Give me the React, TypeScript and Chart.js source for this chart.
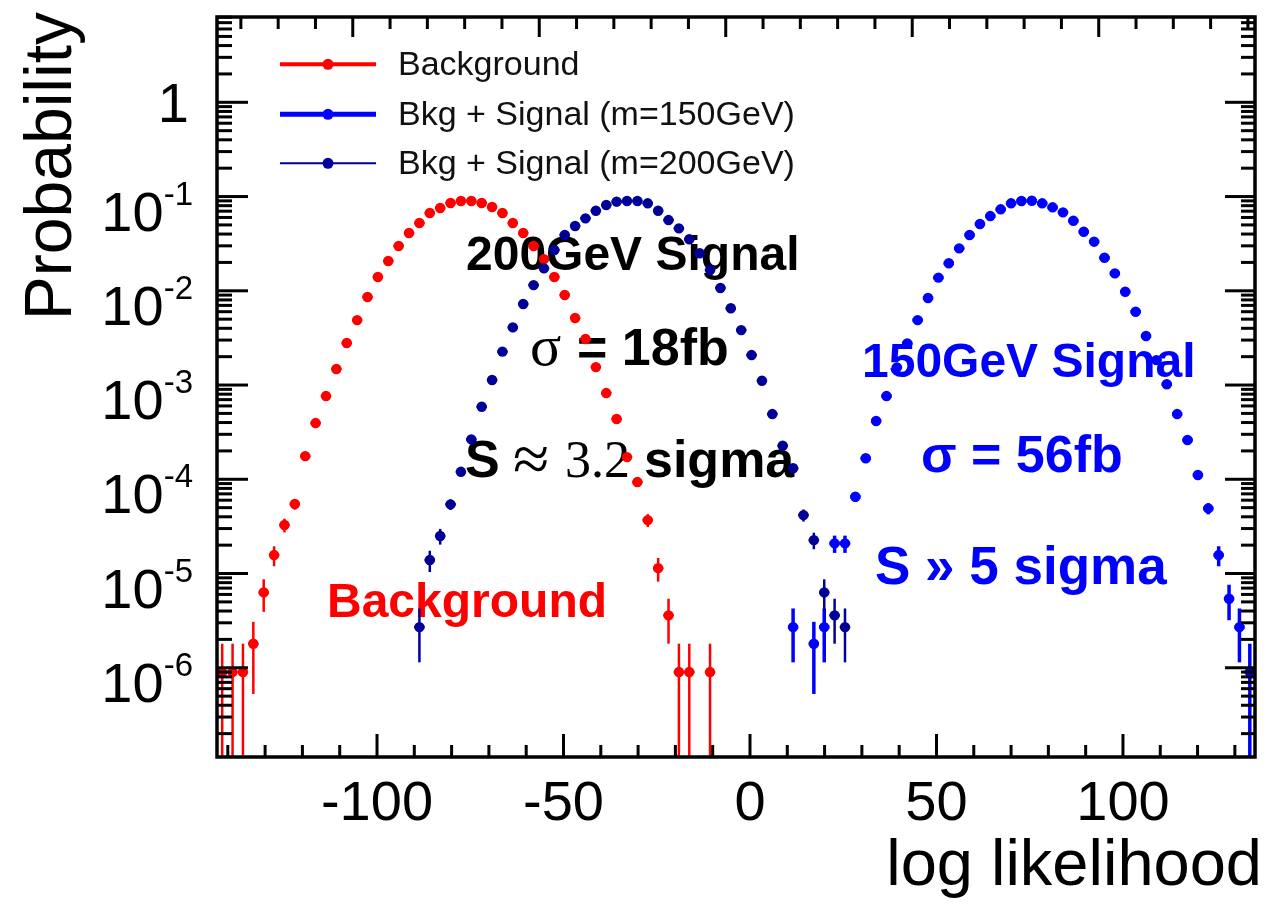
import React, { useEffect, useRef } from "react";
import { Chart, registerables } from "chart.js";

Chart.register(...registerables);

// ---------- axis ranges / binning ----------
const X_MIN = -142.9;
const X_MAX = 135.4;
const N_BINS = 100;
const Y_MIN = 1.13e-7;
const Y_MAX = 8.04;
const ENTRY_WEIGHT = 9e-7; // probability carried by a single entry (Poisson errors)
const TOP_TICK_SHIFT = -6.5; // ticks of the upper frame edge are offset in the original

// ---------- data: probability per bin (0 = empty bin) ----------
const bkgFirstBin = 0;
const bkgValues = [
  9e-7, 9e-7, 9e-7, 1.8e-6, 6.3e-6, 1.57e-5, 3.27e-5, 5.46e-5, 1.76e-4, 3.95e-4,
  7.64e-4, 1.48e-3, 2.79e-3, 4.89e-3, 8.59e-3, 1.4e-2, 2.07e-2, 2.99e-2, 4.1e-2, 5.24e-2,
  6.69e-2, 7.56e-2, 8.54e-2, 8.97e-2, 8.97e-2, 8.54e-2, 7.74e-2, 6.69e-2, 5.24e-2, 4.1e-2,
  2.99e-2, 2.17e-2, 1.4e-2, 9.02e-3, 5.14e-3, 3.08e-3, 1.55e-3, 8.22e-4, 4.36e-4, 1.72e-4,
  9.34e-5, 3.69e-5, 1.14e-5, 3.6e-6, 9e-7, 9e-7, 0, 9e-7,
];

const sig150FirstBin = 55;
const sig150Values = [
  2.7e-6, 0, 1.8e-6, 2.7e-6, 2.09e-5, 2.09e-5, 6.52e-5, 1.67e-4, 4.15e-4, 7.64e-4,
  1.54e-3, 2.77e-3, 4.89e-3, 8.38e-3, 1.38e-2, 1.96e-2, 2.82e-2, 3.91e-2, 5.11e-2, 6.21e-2,
  7.32e-2, 8.48e-2, 8.97e-2, 9.03e-2, 8.48e-2, 7.69e-2, 6.8e-2, 5.54e-2, 4.23e-2, 3.32e-2,
  2.24e-2, 1.53e-2, 9.77e-3, 6.0e-3, 3.31e-3, 1.84e-3, 1.02e-3, 4.92e-4, 2.61e-4, 1.11e-4,
  4.91e-5, 1.57e-5, 5.4e-6, 2.7e-6, 9e-7,
];

const sig200FirstBin = 19;
const sig200Values = [
  2.7e-6, 1.39e-5, 2.5e-5, 5.42e-5, 1.2e-4, 2.65e-4, 5.88e-4, 1.13e-3, 2.26e-3, 4.09e-3,
  7.24e-3, 1.15e-2, 1.73e-2, 2.71e-2, 3.91e-2, 4.87e-2, 5.87e-2, 7.07e-2, 8.13e-2, 8.82e-2,
  8.97e-2, 8.97e-2, 8.48e-2, 7.07e-2, 5.63e-2, 4.6e-2, 3.52e-2, 2.5e-2, 1.66e-2, 1.07e-2,
  6.52e-3, 3.83e-3, 2.08e-3, 1.11e-3, 4.92e-4, 2.27e-4, 1.31e-4, 4.17e-5, 2.26e-5, 6.3e-6,
  3.6e-6, 2.7e-6,
];

// ---------- labels ----------
const xTickLabels = [-100, -50, 0, 50, 100];
const yTickExponents = [0, -1, -2, -3, -4, -5, -6];
const seriesLabels = ["Background", "Bkg + Signal (m=150GeV)", "Bkg + Signal (m=200GeV)"];
const xTitle = "log likelihood";
const yTitle = "Probability";

const SANS = '"Liberation Sans", Arial, Helvetica, sans-serif';
const SERIF = '"Liberation Serif", "Times New Roman", serif';

const RED = "#ff0000";
const BLUE = "#0000ff";
const NAVY = "#000099";

function binCenter(i: number) {
  return X_MIN + (i + 0.5) * ((X_MAX - X_MIN) / N_BINS);
}

function toPoints(first: number, values: number[]) {
  const pts: { x: number; y: number }[] = [];
  values.forEach((v, k) => {
    if (v > 0) pts.push({ x: binCenter(first + k), y: v });
  });
  return pts;
}

function segs(ctx: CanvasRenderingContext2D, x: number, y: number, parts: [string, string, string][]) {
  let cx = x;
  for (const [text, font, color] of parts) {
    ctx.font = font;
    ctx.fillStyle = color;
    ctx.fillText(text, cx, y);
    cx += ctx.measureText(text).width;
  }
}

const rootPlugin = {
  id: "rootStyle",
  beforeDatasetsDraw(chart: any) {
    const ctx: CanvasRenderingContext2D = chart.ctx;
    ctx.save();
    ctx.textBaseline = "alphabetic";
    ctx.textAlign = "left";
    // black annotation (200 GeV)
    segs(ctx, 466, 270, [["200GeV Signal", `bold 48px ${SANS}`, "#000"]]);
    segs(ctx, 530, 365, [["σ", `58px ${SERIF}`, "#000"]]);
    segs(ctx, 577, 365, [["= 18fb", `bold 52px ${SANS}`, "#000"]]);
    segs(ctx, 465, 477, [["S", `bold 52px ${SANS}`, "#000"]]);
    segs(ctx, 513, 481, [["≈", `66px ${SERIF}`, "#000"]]);
    segs(ctx, 565, 477, [["3.2", `52px ${SERIF}`, "#000"]]);
    segs(ctx, 644, 477, [["sigma", `bold 52px ${SANS}`, "#000"]]);
    // blue annotation (150 GeV)
    segs(ctx, 862, 377, [["150GeV Signal", `bold 48px ${SANS}`, BLUE]]);
    segs(ctx, 921, 472, [["σ = 56fb", `bold 52px ${SANS}`, BLUE]]);
    segs(ctx, 875, 584, [["S » 5 sigma", `bold 53px ${SANS}`, BLUE]]);
    // red annotation
    segs(ctx, 327, 617, [["Background", `bold 48px ${SANS}`, RED]]);
    ctx.restore();
  },
  beforeDatasetDraw(chart: any, args: any) {
    const ds = chart.data.datasets[args.index];
    const xs = chart.scales.x;
    const ys = chart.scales.y;
    const { left, right, top, bottom } = chart.chartArea;
    const ctx: CanvasRenderingContext2D = chart.ctx;
    const halfBin = (X_MAX - X_MIN) / N_BINS / 2;
    ctx.save();
    ctx.beginPath();
    ctx.rect(left, top, right - left, bottom - top);
    ctx.clip();
    ctx.strokeStyle = ds.borderColor;
    ctx.lineWidth = ds.errWidth;
    for (const p of ds.data) {
      const e = Math.sqrt(p.y * ENTRY_WEIGHT);
      const px = xs.getPixelForValue(p.x);
      const py = ys.getPixelForValue(p.y);
      const yHi = ys.getPixelForValue(p.y + e);
      const lo = p.y - e;
      const yLo = lo > Y_MIN ? ys.getPixelForValue(lo) : bottom + 10;
      ctx.beginPath();
      ctx.moveTo(px, yHi);
      ctx.lineTo(px, yLo);
      ctx.stroke();
      ctx.beginPath();
      ctx.moveTo(xs.getPixelForValue(p.x - halfBin), py);
      ctx.lineTo(xs.getPixelForValue(p.x + halfBin), py);
      ctx.stroke();
    }
    ctx.restore();
  },
  afterDatasetsDraw(chart: any) {
    const ctx: CanvasRenderingContext2D = chart.ctx;
    const xs = chart.scales.x;
    const ys = chart.scales.y;
    const { left, right, top, bottom } = chart.chartArea;
    ctx.save();
    ctx.strokeStyle = "#000";
    ctx.lineCap = "butt";
    const line = (x1: number, y1: number, x2: number, y2: number) => {
      ctx.beginPath();
      ctx.moveTo(x1, y1);
      ctx.lineTo(x2, y2);
      ctx.stroke();
    };
    ctx.lineWidth = 3;
    // bottom ticks
    for (let v = -140; v <= 130; v += 10) {
      if (v <= X_MIN || v >= X_MAX) continue;
      const px = xs.getPixelForValue(v);
      line(px, bottom, px, bottom - (v % 50 === 0 ? 23 : 12));
    }
    // top ticks
    for (let k = -15; k <= 15; k++) {
      const v = 10 * k + TOP_TICK_SHIFT;
      if (v <= X_MIN + 1 || v >= X_MAX - 1) continue;
      const px = xs.getPixelForValue(v);
      line(px, top, px, top + (k % 5 === 0 ? 20 : 12));
    }
    // log ticks left/right
    for (let ex = -8; ex <= 1; ex++) {
      for (let m = 1; m <= 9; m++) {
        const v = m * Math.pow(10, ex);
        if (v <= Y_MIN || v >= Y_MAX) continue;
        const py = ys.getPixelForValue(v);
        line(left, py, left + (m === 1 ? 31 : 15), py);
        line(right, py, right - (m === 1 ? 30 : 14), py);
      }
    }
    // frame
    ctx.lineWidth = 3.5;
    ctx.strokeRect(left, top, right - left, bottom - top);
    ctx.restore();
  },
  afterDraw(chart: any) {
    const ctx: CanvasRenderingContext2D = chart.ctx;
    const xs = chart.scales.x;
    const ys = chart.scales.y;
    ctx.save();
    ctx.fillStyle = "#000";
    ctx.textBaseline = "alphabetic";
    // x tick labels
    ctx.font = `56px ${SANS}`;
    ctx.textAlign = "center";
    for (const v of xTickLabels) {
      ctx.fillText(String(v), xs.getPixelForValue(v), 820);
    }
    // y tick labels
    const rightEdge = 193;
    for (const ex of yTickExponents) {
      const py = ys.getPixelForValue(Math.pow(10, ex));
      if (ex === 0) {
        ctx.font = `56px ${SANS}`;
        ctx.textAlign = "right";
        ctx.fillText("1", rightEdge - 4, py + 19.5);
        continue;
      }
      ctx.textAlign = "left";
      const sup = `-${-ex}`;
      ctx.font = `56px ${SANS}`;
      const w1 = ctx.measureText("10").width;
      ctx.font = `33px ${SANS}`;
      const w2 = ctx.measureText(sup).width;
      const x0 = rightEdge - w1 - w2;
      ctx.font = `56px ${SANS}`;
      ctx.fillText("10", x0, py + 34);
      ctx.font = `33px ${SANS}`;
      ctx.fillText(sup, x0 + w1, py + 8);
    }
    // axis titles
    ctx.font = `65px ${SANS}`;
    ctx.textAlign = "right";
    ctx.fillText(xTitle, 1262, 885);
    ctx.save();
    ctx.translate(71, 12);
    ctx.rotate(-Math.PI / 2);
    ctx.font = `66px ${SANS}`;
    ctx.textAlign = "right";
    ctx.fillText(yTitle, 0, 0);
    ctx.restore();
    // legend
    const order = [2, 1, 0]; // dataset indices for Background, 150, 200
    const rowsY = [64.3, 114.3, 163.3];
    const legendLineWidth = [4, 5, 2];
    order.forEach((dsIndex, row) => {
      const ds = chart.data.datasets[dsIndex];
      const y = rowsY[row];
      ctx.strokeStyle = ds.borderColor;
      ctx.lineWidth = legendLineWidth[row];
      ctx.beginPath();
      ctx.moveTo(280, y);
      ctx.lineTo(376, y);
      ctx.stroke();
      ctx.fillStyle = ds.borderColor;
      ctx.beginPath();
      ctx.arc(328, y, 5.5, 0, Math.PI * 2);
      ctx.fill();
      ctx.fillStyle = "#111";
      ctx.font = `34px ${SANS}`;
      ctx.textAlign = "left";
      ctx.fillText(seriesLabels[row], 398, y + 11);
    });
    ctx.restore();
  },
};

export default function App() {
  const canvasRef = useRef<HTMLCanvasElement | null>(null);

  useEffect(() => {
    const canvas = canvasRef.current;
    if (!canvas) return;
    const mk = (label: string, pts: any[], color: string, errWidth: number) => ({
      label,
      data: pts,
      showLine: false,
      pointRadius: 5.2,
      pointHoverRadius: 5.2,
      pointStyle: "circle",
      pointBorderWidth: 0,
      pointBackgroundColor: color,
      backgroundColor: color,
      borderColor: color,
      errWidth,
    });
    const chart = new Chart(canvas, {
      type: "scatter",
      data: {
        datasets: [
          mk(seriesLabels[2], toPoints(sig200FirstBin, sig200Values), NAVY, 2.5),
          mk(seriesLabels[1], toPoints(sig150FirstBin, sig150Values), BLUE, 3.5),
          mk(seriesLabels[0], toPoints(bkgFirstBin, bkgValues), RED, 2.5),
        ] as any,
      },
      options: {
        animation: false,
        responsive: false,
        devicePixelRatio: 1,
        events: [],
        layout: { padding: { left: 217, top: 17, right: 13, bottom: 152 } },
        plugins: { legend: { display: false }, tooltip: { enabled: false } },
        scales: {
          x: { type: "linear", min: X_MIN, max: X_MAX, display: false },
          y: { type: "logarithmic", min: Y_MIN, max: Y_MAX, display: false },
        },
      } as any,
      plugins: [rootPlugin as any],
    });
    return () => chart.destroy();
  }, []);

  return (
    <div style={{ position: "absolute", left: 0, top: 0, width: 1268, height: 909, background: "#fff" }}>
      <canvas ref={canvasRef} width={1268} height={909} style={{ display: "block", width: 1268, height: 909 }} />
    </div>
  );
}
